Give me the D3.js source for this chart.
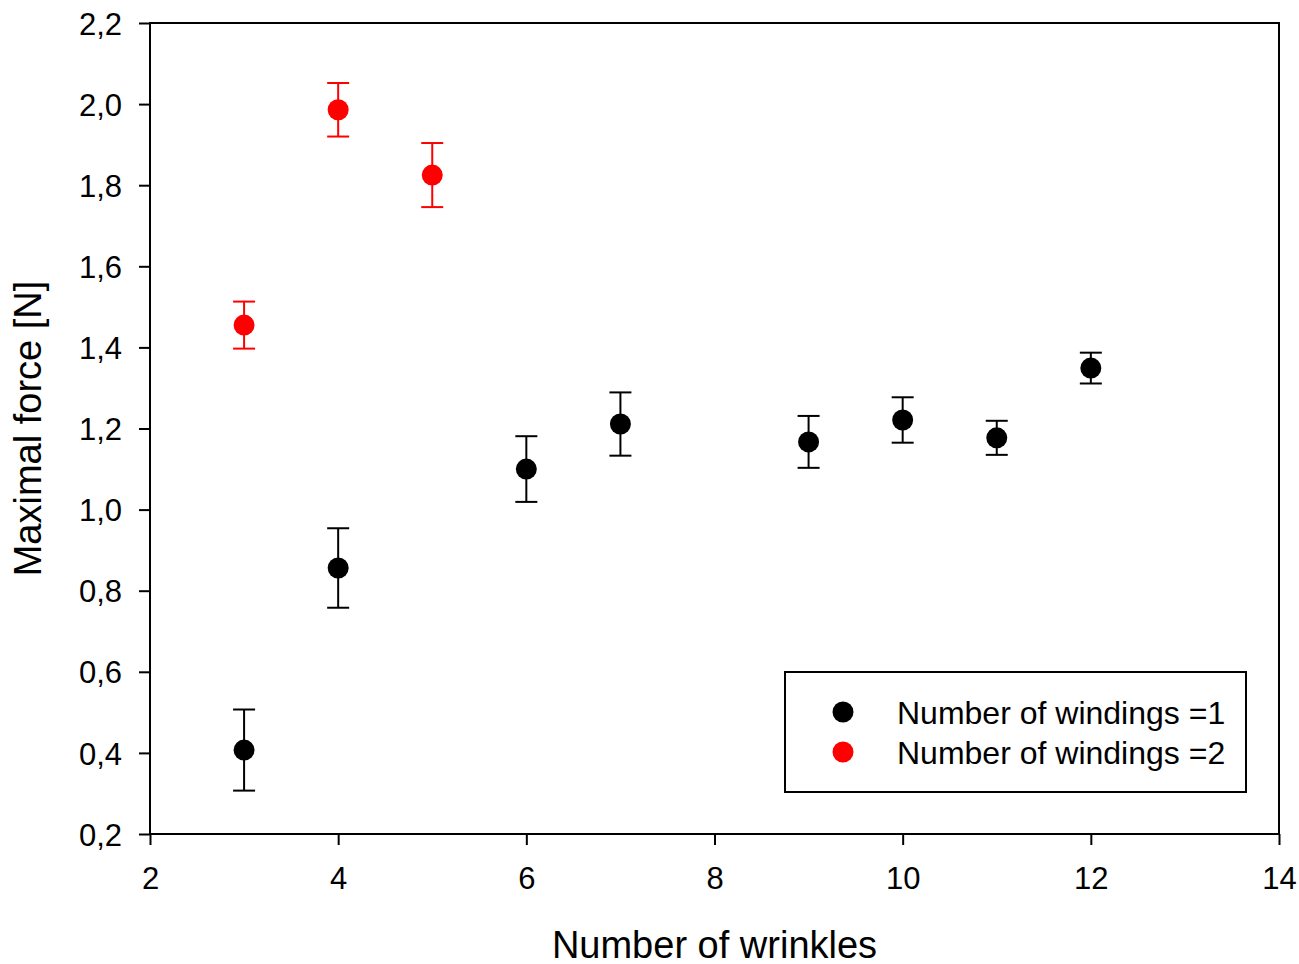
<!DOCTYPE html>
<html>
<head>
<meta charset="utf-8">
<script src="https://cdn.jsdelivr.net/npm/d3@7"></script>
<style>
  html, body { margin: 0; padding: 0; background: #fff; }
  svg { display: block; font-family: "Liberation Sans", Arial, sans-serif; }
</style>
</head>
<body>
<svg id="chart" width="1299" height="964"></svg>
<script>
// Maximal force vs. number of wrinkles, mean ± error
const wrinkles1 = [3, 4, 6, 7, 9, 10, 11, 12];
const force1    = [0.407, 0.856, 1.100, 1.211, 1.167, 1.221, 1.177, 1.349];
const err1      = [0.100, 0.098, 0.081, 0.078, 0.064, 0.056, 0.042, 0.038];

const wrinkles2 = [3, 4, 5];
const force2    = [1.455, 1.986, 1.825];
const err2      = [0.058, 0.066, 0.079];

const xTicks = [2, 4, 6, 8, 10, 12, 14];
const yTicks = [0.2, 0.4, 0.6, 0.8, 1.0, 1.2, 1.4, 1.6, 1.8, 2.0, 2.2];

const seriesNames  = ["Number of windings =1", "Number of windings =2"];
const seriesColors = ["#000000", "#ff0000"];

const svg = d3.select("#chart");
const plotL = 150, plotR = 1279, plotT = 23, plotB = 834;

const x = d3.scaleLinear().domain([2, 14]).range([plotL, plotR]);
const y = d3.scaleLinear().domain([0.2, 2.2]).range([plotB, plotT]);

// Axes with outward ticks
const xAxis = svg.append("g")
  .attr("transform", `translate(0,${plotB})`)
  .call(d3.axisBottom(x).tickValues(xTicks).tickSize(11).tickPadding(22).tickFormat(d3.format("d")));
const yAxis = svg.append("g")
  .attr("transform", `translate(${plotL},0)`)
  .call(d3.axisLeft(y).tickValues(yTicks).tickSize(11).tickPadding(17)
    .tickFormat(d => d3.format(".1f")(d).replace(".", ",")));

[xAxis, yAxis].forEach(g => {
  g.select(".domain").remove();
  g.selectAll(".tick line").attr("stroke", "#000").attr("stroke-width", 2);
  g.selectAll(".tick text").attr("fill", "#000").attr("font-size", 31)
    .attr("font-family", "Liberation Sans, Arial, sans-serif");
});
yAxis.selectAll(".tick text").attr("dy", "0.36em");

// Frame
svg.append("rect")
  .attr("x", plotL).attr("y", plotT)
  .attr("width", plotR - plotL).attr("height", plotB - plotT)
  .attr("fill", "none").attr("stroke", "#000").attr("stroke-width", 2);

// Axis titles
svg.append("text")
  .attr("x", (plotL + plotR) / 2).attr("y", 958)
  .attr("text-anchor", "middle").attr("font-size", 38).attr("fill", "#000")
  .text("Number of wrinkles");
svg.append("text")
  .attr("transform", `translate(41,${(plotT + plotB) / 2}) rotate(-90)`)
  .attr("text-anchor", "middle").attr("font-size", 38).attr("fill", "#000")
  .text("Maximal force [N]");

// Error bars and markers
function drawSeries(xs, ys, es, color) {
  const data = xs.map((d, i) => ({ x: d, y: ys[i], e: es[i] }));
  const g = svg.append("g");
  const capW = 11;
  g.selectAll("line.stem").data(data).join("line")
    .attr("x1", d => x(d.x)).attr("x2", d => x(d.x))
    .attr("y1", d => y(d.y + d.e)).attr("y2", d => y(d.y - d.e))
    .attr("stroke", color).attr("stroke-width", 2);
  g.selectAll("line.capTop").data(data).join("line")
    .attr("x1", d => x(d.x) - capW).attr("x2", d => x(d.x) + capW)
    .attr("y1", d => y(d.y + d.e)).attr("y2", d => y(d.y + d.e))
    .attr("stroke", color).attr("stroke-width", 2);
  g.selectAll("line.capBot").data(data).join("line")
    .attr("x1", d => x(d.x) - capW).attr("x2", d => x(d.x) + capW)
    .attr("y1", d => y(d.y - d.e)).attr("y2", d => y(d.y - d.e))
    .attr("stroke", color).attr("stroke-width", 2);
  g.selectAll("circle").data(data).join("circle")
    .attr("cx", d => x(d.x)).attr("cy", d => y(d.y)).attr("r", 10.5)
    .attr("fill", color);
}
drawSeries(wrinkles1, force1, err1, seriesColors[0]);
drawSeries(wrinkles2, force2, err2, seriesColors[1]);

// Legend
const legend = svg.append("g");
legend.append("rect")
  .attr("x", 785).attr("y", 672).attr("width", 461).attr("height", 120)
  .attr("fill", "#fff").attr("stroke", "#000").attr("stroke-width", 2);
seriesNames.forEach((name, i) => {
  const cy = 712 + i * 40;
  legend.append("circle").attr("cx", 843).attr("cy", cy).attr("r", 10.5).attr("fill", seriesColors[i]);
  legend.append("text").attr("x", 897).attr("y", cy).attr("dy", "0.36em")
    .attr("font-size", 32).attr("fill", "#000").text(name);
});
</script>
</body>
</html>
